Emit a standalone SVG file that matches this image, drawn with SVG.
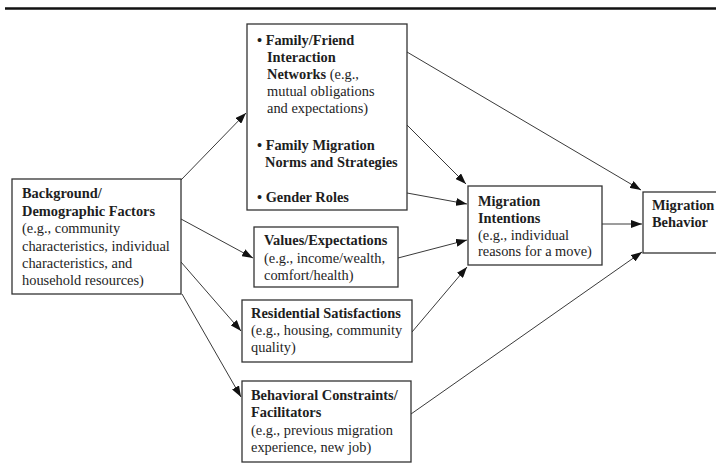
<svg xmlns="http://www.w3.org/2000/svg" width="716" height="469" viewBox="0 0 716 469">
  <style>
    .box { fill: #fff; stroke: #333; stroke-width: 1.3; }
    .t { font-family: "Liberation Serif", "Times New Roman", serif; font-size: 14.4px; fill: #1e1e1e; }
    .b { font-weight: bold; }
    .edge { stroke: #3a3a3a; stroke-width: 1; fill: none; marker-end: url(#arrow); }
  </style>
  <defs>
    <marker id="arrow" markerUnits="userSpaceOnUse" markerWidth="11" markerHeight="8" refX="11" refY="4" orient="auto">
      <path d="M0,0 L11,4 L0,8 z" fill="#111"/>
    </marker>
  </defs>

  <rect width="716" height="469" fill="#fff"/>
  <!-- heading rule -->
  <line x1="5" y1="8.5" x2="716" y2="8.5" stroke="#111" stroke-width="2.6"/>

  <g id="connectors">
    <line class="edge" x1="181" y1="180" x2="246" y2="113"/>
    <line class="edge" x1="181" y1="219" x2="253" y2="258"/>
    <line class="edge" x1="181" y1="262" x2="241" y2="331"/>
    <line class="edge" x1="182" y1="294" x2="241" y2="397"/>
    <line class="edge" x1="407" y1="52" x2="641" y2="190"/>
    <line class="edge" x1="407" y1="125" x2="466" y2="184"/>
    <line class="edge" x1="407" y1="193" x2="467" y2="204"/>
    <line class="edge" x1="398" y1="258" x2="467" y2="240"/>
    <line class="edge" x1="412" y1="332" x2="467" y2="267"/>
    <line class="edge" x1="602" y1="224" x2="642" y2="224"/>
    <line class="edge" x1="411" y1="414" x2="642" y2="252"/>
  </g>

  <g id="background">
    <rect class="box" x="12" y="179" width="169" height="115"/>
    <text class="t b" x="22" y="198">Background/</text>
    <text class="t b" x="22" y="216">Demographic Factors</text>
    <text class="t" x="22" y="233">(e.g., community</text>
    <text class="t" x="22" y="251">characteristics, individual</text>
    <text class="t" x="22" y="268">characteristics, and</text>
    <text class="t" x="22" y="285">household resources)</text>
  </g>

  <g id="family">
    <rect class="box" x="247" y="24" width="160" height="186"/>
    <text class="t b" x="257" y="45">• Family/Friend</text>
    <text class="t b" x="267" y="62">Interaction</text>
    <text class="t" x="267" y="79"><tspan class="b">Networks</tspan> (e.g.,</text>
    <text class="t" x="267" y="96">mutual obligations</text>
    <text class="t" x="267" y="113">and expectations)</text>
    <text class="t b" x="257" y="150">• Family Migration</text>
    <text class="t b" x="265" y="167">Norms and Strategies</text>
    <text class="t b" x="257" y="202">• Gender Roles</text>
  </g>

  <g id="values">
    <rect class="box" x="254" y="227" width="144" height="60"/>
    <text class="t b" x="264" y="245">Values/Expectations</text>
    <text class="t" x="264" y="262.5">(e.g., income/wealth,</text>
    <text class="t" x="264" y="280">comfort/health)</text>
  </g>

  <g id="residential">
    <rect class="box" x="242" y="300" width="170" height="62"/>
    <text class="t b" x="251" y="318">Residential Satisfactions</text>
    <text class="t" x="251" y="335">(e.g., housing, community</text>
    <text class="t" x="251" y="352">quality)</text>
  </g>

  <g id="constraints">
    <rect class="box" x="242" y="381" width="169" height="81"/>
    <text class="t b" x="251" y="400">Behavioral Constraints/</text>
    <text class="t b" x="251" y="417">Facilitators</text>
    <text class="t" x="251" y="435">(e.g., previous migration</text>
    <text class="t" x="251" y="452">experience, new job)</text>
  </g>

  <g id="intentions">
    <rect class="box" x="468" y="186" width="134" height="79"/>
    <text class="t b" x="478" y="206">Migration</text>
    <text class="t b" x="478" y="223">Intentions</text>
    <text class="t" x="478" y="239.5">(e.g., individual</text>
    <text class="t" x="478" y="256">reasons for a move)</text>
  </g>

  <g id="behavior">
    <rect class="box" x="643" y="192" width="80" height="61"/>
    <text class="t b" x="652" y="210">Migration</text>
    <text class="t b" x="652" y="227">Behavior</text>
  </g>
</svg>
